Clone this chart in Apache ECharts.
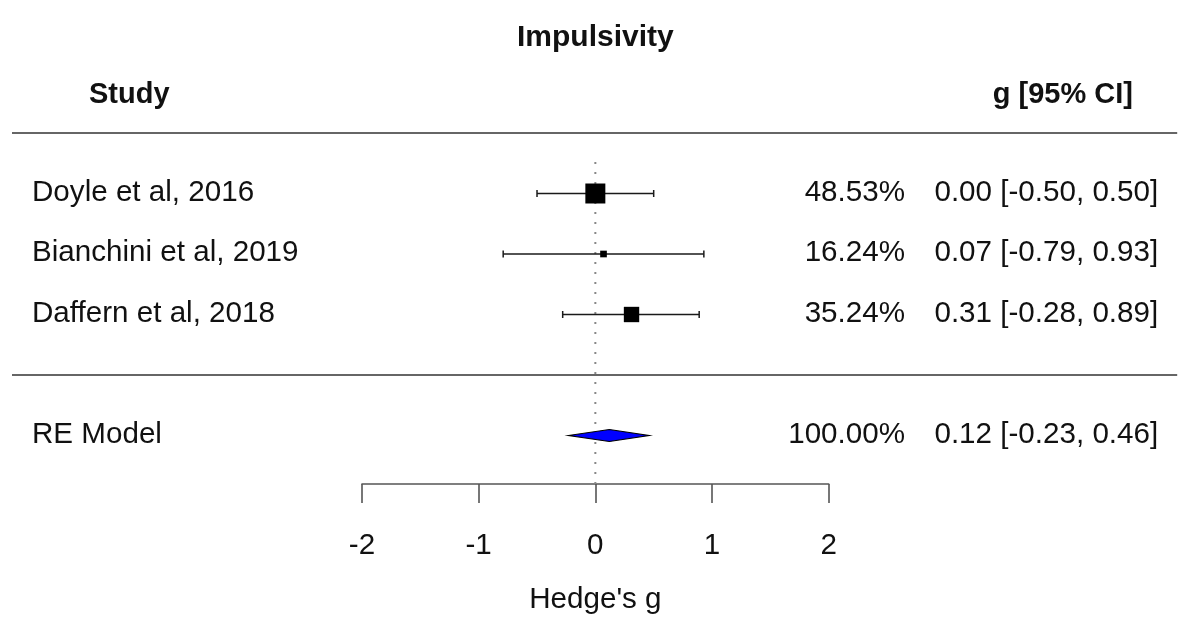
<!DOCTYPE html>
<html>
<head>
<meta charset="utf-8">
<script src="https://cdn.jsdelivr.net/npm/echarts@6/dist/echarts.min.js"></script>
<style>
html,body{margin:0;padding:0;background:#fff;}
#chart{width:1183px;height:624px;}
</style>
</head>
<body>
<div id="chart"></div>
<script>
// ---- data ----
const chartTitle = 'Impulsivity';
const studyHeader = 'Study';
const ciHeader = 'g [95% CI]';
const axisTitle = "Hedge's g";
const studies = ['Doyle et al, 2016', 'Bianchini et al, 2019', 'Daffern et al, 2018'];
const estimates = [0.00, 0.07, 0.31];
const ciLower = [-0.50, -0.79, -0.28];
const ciUpper = [0.50, 0.93, 0.89];
const weights = [48.53, 16.24, 35.24];
const modelLabel = ['RE Model'];
const modelEstimate = [0.12];
const modelLower = [-0.23];
const modelUpper = [0.46];
const modelWeight = [100.00];
const xTicks = [-2, -1, 0, 1, 2];

// ---- derived ----
const k = studies.length;
const rows = studies.map((_, i) => k - i);          // 3,2,1
const modelRow = -1;
const headerRow = k + 1.63;
const titleRow = k + 2.57;
const sepRows = [k + 1, 0];
// metafor-style point sizes from inverse standard errors
const invSe = ciLower.map((lo, i) => 1 / ((ciUpper[i] - lo) / (2 * 1.96)));
const wMin = Math.min(...invSe), wMax = Math.max(...invSe);
const psize = invSe.map(w => (w - wMin) / (wMax - wMin) + 0.5);

const FONT = 'Liberation Sans, Arial, Helvetica, sans-serif';
const FS = 29.6;
const FSB = 29;
const fmt = v => v.toFixed(2);

const studyData = studies.map((s, i) => [estimates[i], rows[i], ciLower[i], ciUpper[i], i]);
const modelData = modelLabel.map((s, i) => [modelEstimate[i], modelRow, modelLower[i], modelUpper[i], i]);

function txt(x, y, text, align, bold, size) {
  return {
    type: 'text',
    style: {
      x: x, y: y, text: text, align: align, verticalAlign: 'middle',
      fontFamily: FONT, fontSize: size || (bold ? FSB : FS), fontWeight: bold ? 'bold' : 'normal', fill: '#111'
    }
  };
}

const chart = echarts.init(document.getElementById('chart'), null, {renderer: 'canvas'});

chart.setOption({
  animation: false,
  backgroundColor: '#fff',
  grid: [
    {left: 12, right: 4.3, top: 72.5, bottom: 140.1},
    {left: 362, right: 354.3, top: 72.5, bottom: 140.1}
  ],
  xAxis: [
    {gridIndex: 0, type: 'value', min: -5, max: 5, show: false},
    {
      gridIndex: 1, type: 'value', min: -2, max: 2, interval: 1,
      axisLine: {show: true, onZero: false, lineStyle: {color: '#555', width: 1.6}},
      axisTick: {show: true, inside: false, length: 19, lineStyle: {color: '#555', width: 1.6}},
      axisLabel: {margin: 47, fontFamily: FONT, fontSize: FS, color: '#111',
        customValues: xTicks, formatter: v => String(v)},
      splitLine: {show: false},
      name: axisTitle, nameLocation: 'middle', nameGap: 101,
      nameTextStyle: {fontFamily: FONT, fontSize: FS, color: '#111'}
    }
  ],
  yAxis: [
    {gridIndex: 0, type: 'value', min: -1.8, max: 5, show: false},
    {gridIndex: 1, type: 'value', min: -1.8, max: 5, show: false}
  ],
  series: [
    // reference line at 0
    {
      type: 'line', xAxisIndex: 1, yAxisIndex: 1, symbol: 'none', silent: true, z: 1,
      data: [[0, -1.8], [0, k + 0.55]],
      lineStyle: {color: '#888', width: 2, type: [2, 8]}
    },
    // title, header + separators
    {
      type: 'custom', xAxisIndex: 0, yAxisIndex: 0, silent: true, z: 3, clip: false,
      data: [[0, headerRow]],
      renderItem: function (params, api) {
        const left = api.coord([-5, 0])[0];
        const right = api.coord([5, 0])[0];
        const hy = api.coord([0, headerRow])[1];
        const t = api.coord([0, titleRow]);
        const children = [
          txt(t[0], t[1], chartTitle, 'center', true, 30),
          txt(left + 77, hy, studyHeader, 'left', true),
          txt(right - 45.7, hy, ciHeader, 'right', true)
        ];
        sepRows.forEach(r => {
          const y = api.coord([0, r])[1];
          children.push({type: 'line', shape: {x1: left, y1: y, x2: right - 1.5, y2: y},
            style: {stroke: '#666', lineWidth: 1.8}});
        });
        return {type: 'group', children: children};
      }
    },
    // studies
    {
      type: 'custom', xAxisIndex: 0, yAxisIndex: 0, silent: true, z: 3,
      data: studyData,
      encode: {x: 0, y: 1},
      renderItem: function (params, api) {
        const est = api.value(0), row = api.value(1), lo = api.value(2), hi = api.value(3), i = api.value(4);
        const p = api.coord([est, row]);
        const pl = api.coord([lo, row]);
        const ph = api.coord([hi, row]);
        const left = api.coord([-5, row])[0];
        const right = api.coord([5, row])[0];
        const s = 13.33 * psize[i];
        const cap = 3.5;
        return {
          type: 'group',
          children: [
            {type: 'line', shape: {x1: pl[0], y1: p[1], x2: ph[0], y2: p[1]}, style: {stroke: '#1a1a1a', lineWidth: 1.5}},
            {type: 'line', shape: {x1: pl[0], y1: p[1] - cap, x2: pl[0], y2: p[1] + cap}, style: {stroke: '#1a1a1a', lineWidth: 1.5}},
            {type: 'line', shape: {x1: ph[0], y1: p[1] - cap, x2: ph[0], y2: p[1] + cap}, style: {stroke: '#1a1a1a', lineWidth: 1.5}},
            {type: 'rect', shape: {x: p[0] - s / 2, y: p[1] - s / 2, width: s, height: s}, style: {fill: '#000'}},
            txt(left + 20, p[1] - 1, studies[i], 'left', false),
            txt(right - 273.7, p[1] - 1, fmt(weights[i]) + '%', 'right', false),
            txt(right - 20.5, p[1] - 1, fmt(estimates[i]) + ' [' + fmt(ciLower[i]) + ', ' + fmt(ciUpper[i]) + ']', 'right', false)
          ]
        };
      }
    },
    // model
    {
      type: 'custom', xAxisIndex: 0, yAxisIndex: 0, silent: true, z: 3,
      data: modelData,
      encode: {x: 0, y: 1},
      renderItem: function (params, api) {
        const est = api.value(0), row = api.value(1), lo = api.value(2), hi = api.value(3), i = api.value(4);
        const p = api.coord([est, row]);
        const pl = api.coord([lo, row]);
        const ph = api.coord([hi, row]);
        const left = api.coord([-5, row])[0];
        const right = api.coord([5, row])[0];
        const h = 6;
        return {
          type: 'group',
          children: [
            {type: 'polygon', shape: {points: [[pl[0], p[1]], [p[0], p[1] - h], [ph[0], p[1]], [p[0], p[1] + h]]},
              style: {fill: '#0000ff', stroke: '#000', lineWidth: 1.2}},
            txt(left + 20, p[1] - 1, modelLabel[i], 'left', false),
            txt(right - 273.7, p[1] - 1, fmt(modelWeight[i]) + '%', 'right', false),
            txt(right - 20.5, p[1] - 1, fmt(modelEstimate[i]) + ' [' + fmt(modelLower[i]) + ', ' + fmt(modelUpper[i]) + ']', 'right', false)
          ]
        };
      }
    }
  ]
});
</script>
</body>
</html>
